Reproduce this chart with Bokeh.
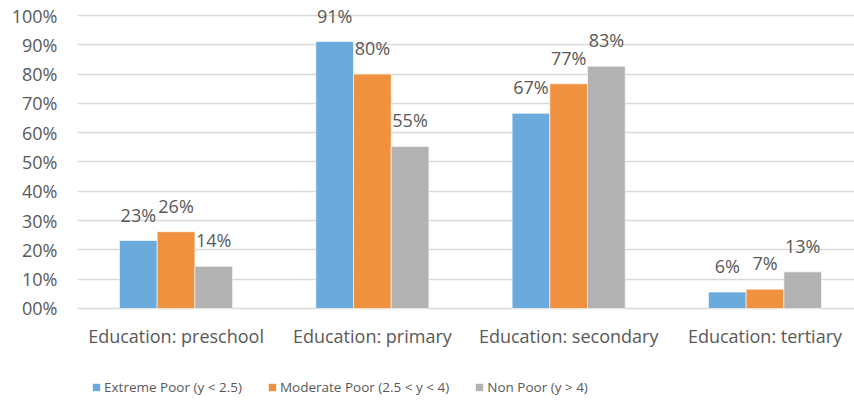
from bokeh.plotting import figure
from bokeh.models import Range1d, FixedTicker, Legend, LegendItem, ColumnDataSource, LabelSet
from bokeh.core.properties import value
from bokeh.embed import file_html
from bokeh.resources import INLINE

categories = ["Education: preschool", "Education: primary", "Education: secondary", "Education: tertiary"]
series_names = ["Extreme Poor (y < 2.5)", "Moderate Poor (2.5 < y < 4)", "Non Poor (y > 4)"]
extreme_poor = [23.2, 91.1, 66.6, 5.6]
moderate_poor = [26.2, 80.0, 76.7, 6.6]
non_poor = [14.4, 55.3, 82.7, 12.5]
value_labels = [["23%", "91%", "67%", "6%"], ["26%", "80%", "77%", "7%"], ["14%", "55%", "83%", "13%"]]
y_ticks = [0, 10, 20, 30, 40, 50, 60, 70, 80, 90, 100]
y_tick_labels = ["00%", "10%", "20%", "30%", "40%", "50%", "60%", "70%", "80%", "90%", "100%"]

colors = ["#6BAADC", "#F0913F", "#B2B2B2"]
FONT = "Open Sans"
TXT = "#595959"

p = figure(width=854, height=407, output_backend="svg", toolbar_location=None,
           x_range=Range1d(-0.502, 3.456), y_range=Range1d(-33.79, 105.12),
           min_border_left=77, min_border_right=0, min_border_top=0, min_border_bottom=0)
p.outline_line_color = None
p.background_fill_color = "white"
p.xaxis.visible = False

bar_w = 0.192
offsets = [-bar_w, 0.0, bar_w]
series = [extreme_poor, moderate_poor, non_poor]
renderers = []
for k, vals in enumerate(series):
    xs = [i + offsets[k] for i in range(len(categories))]
    src = ColumnDataSource(dict(x=xs, top=vals, lab=value_labels[k]))
    r = p.vbar(x="x", top="top", width=bar_w, bottom=0, source=src,
               fill_color=colors[k], line_color="white", line_width=0.6)
    renderers.append(r)
    ls = LabelSet(x="x", y="top", text="lab", source=src, text_align="center",
                  text_baseline="alphabetic", y_offset=19, text_font=value(FONT),
                  text_font_size=value("18px"), text_color=value(TXT))
    p.add_layout(ls)

# category labels
cat_src = ColumnDataSource(dict(x=list(range(len(categories))), y=[0] * len(categories), lab=categories))
p.add_layout(LabelSet(x="x", y="y", text="lab", source=cat_src, text_align="center",
                      text_baseline="alphabetic", y_offset=-35, text_font=value(FONT),
                      text_font_size=value("18px"), text_color=value(TXT)))

# y axis
p.yaxis.ticker = FixedTicker(ticks=y_ticks)
p.yaxis.major_label_overrides = {t: l for t, l in zip(y_ticks, y_tick_labels)}
p.yaxis.axis_line_color = None
p.yaxis.major_tick_line_color = None
p.yaxis.minor_tick_line_color = None
p.yaxis.major_label_standoff = 14
p.yaxis.major_label_text_font = FONT
p.yaxis.major_label_text_font_size = "18px"
p.yaxis.major_label_text_color = TXT

p.xgrid.grid_line_color = None
p.ygrid.ticker = FixedTicker(ticks=y_ticks)
p.ygrid.grid_line_color = "#D9D9D9"
p.ygrid.grid_line_width = 1.3

legend = Legend(items=[LegendItem(label=n, renderers=[r]) for n, r in zip(series_names, renderers)],
                orientation="horizontal", location=(14, 11),
                glyph_width=10, glyph_height=10, label_standoff=3, spacing=25,
                padding=0, margin=0, border_line_color=None, background_fill_alpha=0,
                label_text_font=FONT, label_text_font_size="13.5px", label_text_color=TXT)
p.add_layout(legend, "center")

open("out.html", "w").write(file_html(p, INLINE))
